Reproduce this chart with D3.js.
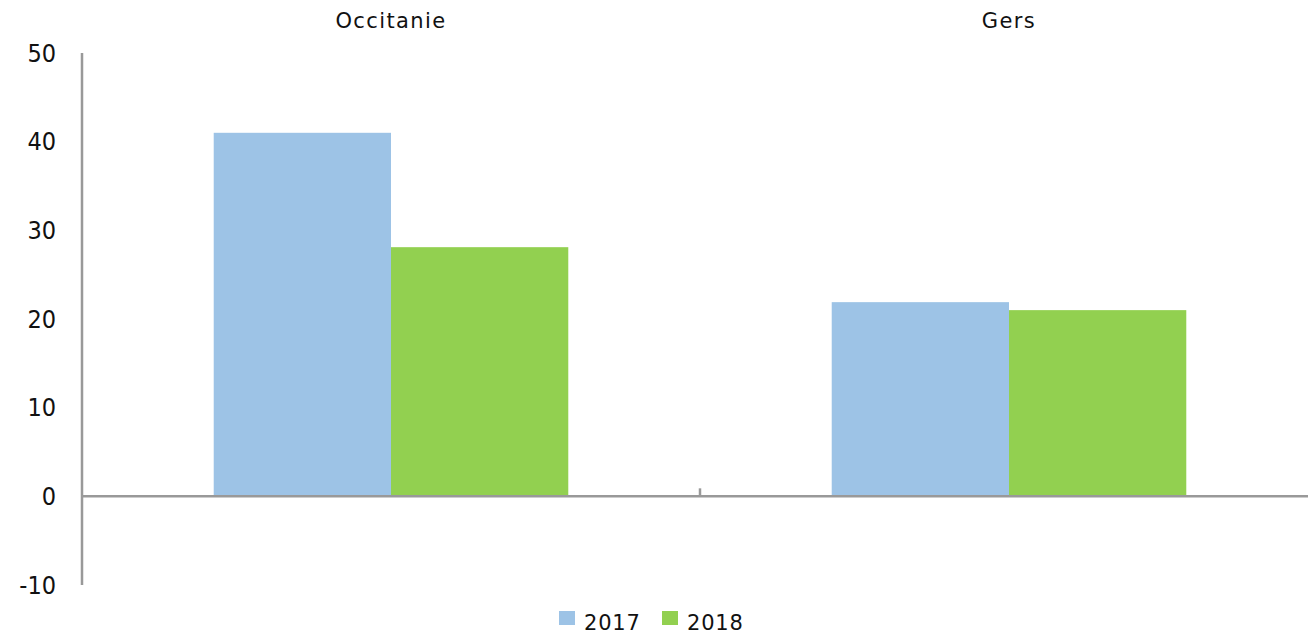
<!DOCTYPE html>
<html>
<head>
<meta charset="utf-8">
<script src="https://cdn.jsdelivr.net/npm/d3@7"></script>
<style>
  body { margin: 0; background: #fff; }
  text { font-family: "DejaVu Sans", sans-serif; fill: #111; }
  text.ytick { font-family: "DejaVu Sans Condensed", "DejaVu Sans", sans-serif; font-stretch: condensed; }
</style>
</head>
<body>
<div id="chart"></div>
<script>
// Data
var categories = ["Occitanie", "Gers"];
var years = ["2017", "2018"];
var values2017 = [41.0, 21.9];
var values2018 = [28.1, 21.0];
var yTicks = [-10, 0, 10, 20, 30, 40, 50];

var colors = {"2017": "#9dc3e6", "2018": "#92d050"};

var W = 1308, H = 637;
var svg = d3.select("#chart").append("svg")
    .attr("width", W)
    .attr("height", H);

var axisLeftX = 82;

var y = d3.scaleLinear()
    .domain([-10, 50])
    .range([585, 53]);

var x0 = d3.scaleBand()
    .domain(categories)
    .range([axisLeftX, 1318]);

var x1 = d3.scaleBand()
    .domain(years)
    .range([0, x0.bandwidth()])
    .paddingOuter(0.743)
    .paddingInner(0);

var rows = categories.map(function(c, i) {
    return {cat: c, vals: [{year: "2017", v: values2017[i]}, {year: "2018", v: values2018[i]}]};
});

// Bars
var groups = svg.selectAll("g.cat")
    .data(rows)
    .enter()
    .append("g")
    .attr("class", "cat")
    .attr("transform", d => `translate(${x0(d.cat)},0)`);

groups.selectAll("rect")
    .data(d => d.vals)
    .enter()
    .append("rect")
    .attr("x", d => x1(d.year))
    .attr("width", x1.bandwidth())
    .attr("y", d => y(Math.max(0, d.v)))
    .attr("height", d => Math.abs(y(d.v) - y(0)))
    .attr("fill", d => colors[d.year]);

// Y axis line
svg.append("line")
    .attr("x1", axisLeftX).attr("x2", axisLeftX)
    .attr("y1", y(50)).attr("y2", y(-10))
    .attr("stroke", "#999").attr("stroke-width", 2.5);

// Y tick labels
svg.selectAll("text.ytick")
    .data(yTicks)
    .enter()
    .append("text")
    .attr("class", "ytick")
    .attr("x", 56)
    .attr("y", d => y(d))
    .attr("dy", "0.35em")
    .attr("text-anchor", "end")
    .attr("font-size", "25px")
    .text(d => d);

// X axis line at zero
svg.append("line")
    .attr("x1", axisLeftX).attr("x2", 1318)
    .attr("y1", y(0)).attr("y2", y(0))
    .attr("stroke", "#999").attr("stroke-width", 2.5);

// Category separator tick
svg.append("line")
    .attr("x1", x0("Gers")).attr("x2", x0("Gers"))
    .attr("y1", y(0) - 8).attr("y2", y(0))
    .attr("stroke", "#999").attr("stroke-width", 2.5);

// Category labels on top
svg.selectAll("text.cat")
    .data(categories)
    .enter()
    .append("text")
    .attr("class", "cat")
    .attr("x", d => x0(d) + x0.bandwidth() / 2)
    .attr("y", 28)
    .attr("text-anchor", "middle")
    .attr("font-size", "21px")
    .attr("letter-spacing", "1.4px")
    .text(d => d);

// Legend
var legend = svg.append("g")
    .attr("transform", "translate(559,611)");

var legendItems = legend.selectAll("g")
    .data(years)
    .enter()
    .append("g")
    .attr("transform", (d, i) => `translate(${i * 103},0)`);

legendItems.append("rect")
    .attr("width", 16).attr("height", 14)
    .attr("fill", d => colors[d]);

legendItems.append("text")
    .attr("x", 25)
    .attr("y", 19)
    .attr("font-size", "21px")
    .attr("letter-spacing", "0.8px")
    .text(d => d);
</script>
</body>
</html>
